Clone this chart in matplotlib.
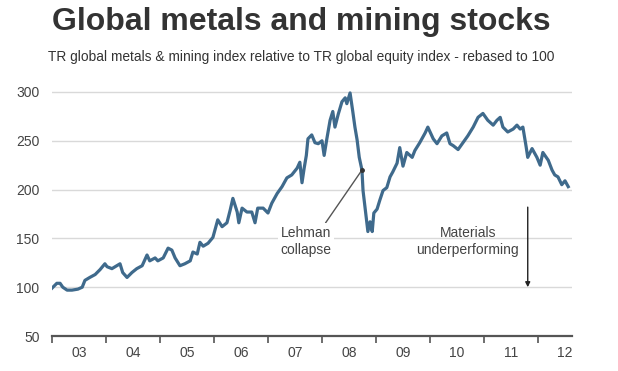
import matplotlib
matplotlib.use("Agg")
import matplotlib.pyplot as plt
from matplotlib.ticker import FixedLocator, NullFormatter

plt.rcParams["font.family"] = ["Liberation Sans", "DejaVu Sans"]

LINE_COLOR = "#3f6a8c"
TEXT_COLOR = "#444444"
GRID_COLOR = "#d9d9d9"

# decimal years, values
years = [
    2003.00, 2003.09, 2003.15, 2003.20, 2003.28, 2003.37, 2003.48, 2003.56, 2003.61, 2003.70,
    2003.80, 2003.89, 2003.98, 2004.02, 2004.11, 2004.20, 2004.26, 2004.31, 2004.39, 2004.48,
    2004.57, 2004.67, 2004.76, 2004.81, 2004.91, 2004.96, 2005.06, 2005.15, 2005.22, 2005.28,
    2005.37, 2005.46, 2005.56, 2005.61, 2005.69, 2005.74, 2005.80, 2005.89, 2005.98, 2006.07,
    2006.15, 2006.24, 2006.30, 2006.35, 2006.43, 2006.46, 2006.52, 2006.61, 2006.70, 2006.76,
    2006.81, 2006.91, 2007.00, 2007.07, 2007.17, 2007.26, 2007.35, 2007.44, 2007.54, 2007.59,
    2007.63, 2007.67, 2007.71, 2007.74, 2007.81, 2007.87, 2007.93, 2008.00, 2008.04, 2008.09,
    2008.15, 2008.20, 2008.24, 2008.30, 2008.37, 2008.43, 2008.46, 2008.52, 2008.57, 2008.61,
    2008.65, 2008.69, 2008.74, 2008.76, 2008.81, 2008.85, 2008.89, 2008.93, 2008.96, 2009.02,
    2009.07, 2009.13, 2009.20, 2009.26, 2009.31, 2009.39, 2009.44, 2009.50, 2009.57, 2009.67,
    2009.72, 2009.81, 2009.91, 2009.96, 2010.06, 2010.13, 2010.22, 2010.31, 2010.37, 2010.43,
    2010.52, 2010.61, 2010.70, 2010.80, 2010.89, 2010.98, 2011.07, 2011.17, 2011.24, 2011.30,
    2011.35, 2011.44, 2011.54, 2011.61, 2011.67, 2011.72, 2011.78, 2011.81, 2011.89, 2011.98,
    2012.04, 2012.09, 2012.19, 2012.26, 2012.31, 2012.37, 2012.44, 2012.50, 2012.56,
]
index_vals = [
    99, 104, 104, 100, 97, 97, 98, 100, 107, 110,
    113, 118, 124, 121, 119, 122, 124, 115, 110, 115,
    119, 122, 133, 127, 130, 127, 130, 140, 138, 130,
    122, 124, 127, 136, 134, 146, 142, 145, 151, 169,
    162, 166, 179, 191, 177, 166, 181, 177, 177, 166,
    181, 181, 176, 186, 196, 203, 212, 215, 222, 228,
    207, 222, 235, 252, 256, 248, 247, 250, 235, 252,
    271, 280, 264, 277, 290, 294, 288, 299, 280, 264,
    251, 233, 220, 199, 176, 157, 167, 157, 176, 180,
    189, 199, 202, 213, 218, 227, 243, 224, 238, 233,
    240, 248, 258, 264, 252, 247, 255, 258, 247, 245,
    241, 248, 255, 264, 274, 278, 271, 266, 271, 274,
    264, 259, 262, 266, 262, 264, 244, 233, 242, 233,
    225, 238, 230, 220, 215, 213, 205, 209, 203,
]

year_ticks = list(range(2003, 2013))
year_labels = ["03", "04", "05", "06", "07", "08", "09", "10", "11", "12"]
y_ticks = [50, 100, 150, 200, 250, 300]

fig = plt.figure(figsize=(6.18, 3.71), dpi=100)
ax = fig.add_axes([0.0841, 0.0943, 0.8415, 0.6631])

ax.plot(years, index_vals, color=LINE_COLOR, linewidth=2.3, solid_joinstyle="round", zorder=3)

ax.set_xlim(2003.0, 2012.63)
ax.set_ylim(50, 302)

for v in y_ticks[1:]:
    ax.axhline(v, color=GRID_COLOR, linewidth=1.0, zorder=1)

ax.set_yticks(y_ticks)
ax.tick_params(axis="y", length=0, pad=9, labelsize=10, labelcolor=TEXT_COLOR)

ax.xaxis.set_major_locator(FixedLocator(year_ticks))
ax.xaxis.set_major_formatter(NullFormatter())
ax.xaxis.set_minor_locator(FixedLocator([y + 0.5 for y in year_ticks]))
ax.set_xticklabels(year_labels, minor=True)
ax.tick_params(axis="x", which="major", direction="out", length=5, width=1.2, color="#555555")
ax.tick_params(axis="x", which="minor", length=0, pad=7, labelsize=10, labelcolor=TEXT_COLOR)

for s in ["top", "right", "left"]:
    ax.spines[s].set_visible(False)
ax.spines["bottom"].set_color("#555555")
ax.spines["bottom"].set_linewidth(1.6)

ax.annotate("Lehman\ncollapse", xy=(2008.74, 220), xytext=(2007.70, 147),
            ha="center", va="center", fontsize=10, color=TEXT_COLOR, linespacing=1.3,
            bbox=dict(boxstyle="square,pad=0.2", fc="white", ec="none"),
            arrowprops=dict(arrowstyle="-", color="#555555", lw=1.0,
                            shrinkA=0, shrinkB=0, relpos=(0.85, 1.0)),
            zorder=4)
ax.plot([2008.74], [220], "o", color="#333333", markersize=2.5, zorder=5)

ax.text(2010.70, 147, "Materials\nunderperforming", ha="center", va="center",
        fontsize=10, color=TEXT_COLOR, linespacing=1.3, zorder=4)
ax.annotate("", xy=(2011.81, 100), xytext=(2011.81, 182),
            arrowprops=dict(arrowstyle="-|>", color="#222222", lw=1.0,
                            mutation_scale=7, shrinkA=0, shrinkB=0))

fig.text(0.487, 0.941, "Global metals and mining stocks", ha="center", va="center",
         fontsize=23, fontweight="bold", color="#333333")
fig.text(0.487, 0.846,
         "TR global metals & mining index relative to TR global equity index - rebased to 100",
         ha="center", va="center", fontsize=9.9, color="#333333")

fig.savefig("out.png", dpi=100)
